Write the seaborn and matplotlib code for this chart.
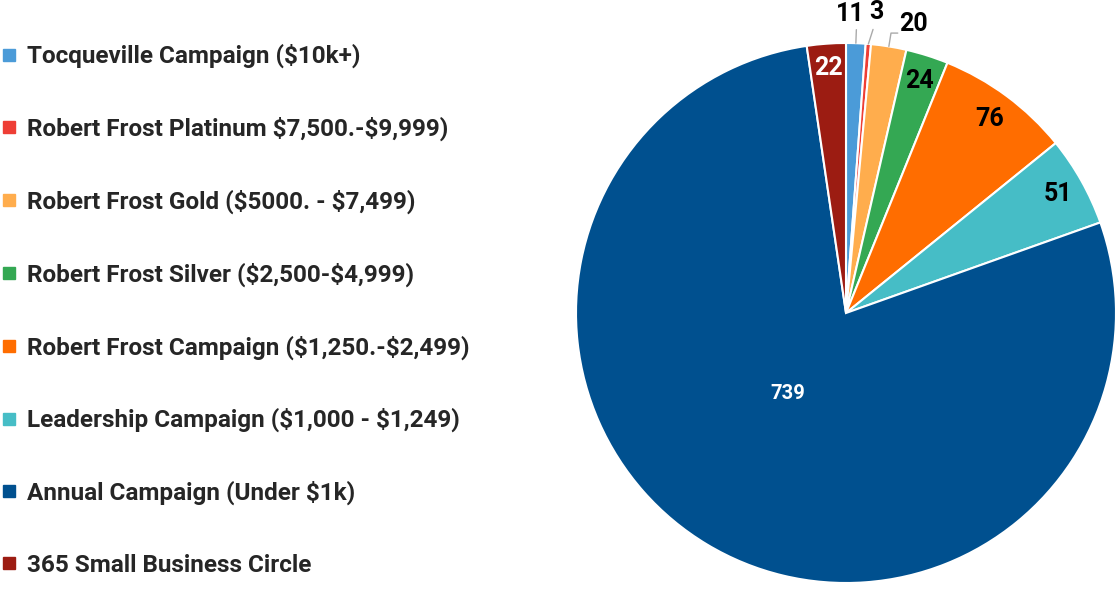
import numpy as np
import matplotlib
matplotlib.use("Agg")
import matplotlib.pyplot as plt
import seaborn as sns
from matplotlib.lines import Line2D

sns.set_theme(style="white")
plt.rcParams['font.family'] = ['Roboto', 'DejaVu Sans']
plt.rcParams['text.parse_math'] = False

categories = [
    "Tocqueville Campaign ($10k+)",
    "Robert Frost Platinum $7,500.-$9,999)",
    "Robert Frost Gold ($5000. - $7,499)",
    "Robert Frost Silver ($2,500-$4,999)",
    "Robert Frost Campaign ($1,250.-$2,499)",
    "Leadership Campaign ($1,000 - $1,249)",
    "Annual Campaign (Under $1k)",
    "365 Small Business Circle",
]
values = [11, 3, 20, 24, 76, 51, 739, 22]
colors = ["#4B9BD8", "#EE3E35", "#FFAD4D", "#34A853", "#FF6D00",
          "#46BDC6", "#00508F", "#9C1C12"]
label_colors = ["black", "black", "black", "black", "black", "black",
                "white", "white"]

W, H = 1120, 589
fig = plt.figure(figsize=(W / 100, H / 100), dpi=100)

cx, cy, R = 846, 313, 270
pad = 40
ax = fig.add_axes([(cx - R - pad) / W, (H - cy - R - pad) / H,
                   2 * (R + pad) / W, 2 * (R + pad) / H])
lim = (R + pad) / R

wedges, _ = ax.pie(values, colors=colors, startangle=90, counterclock=False,
                   radius=1.0,
                   wedgeprops=dict(edgecolor="white", linewidth=1.5))
ax.set_xlim(-lim, lim)
ax.set_ylim(-lim, lim)
ax.set_aspect("equal")
ax.axis("off")

total = sum(values)
cum = np.cumsum([0] + values)
# inside label radii (fraction of radius); None -> outside label
inside_r = [None, None, None, 0.9, 0.895, 0.9, 0.37, 0.91]
inside_da = [0, 0, 0, 0, 0, 0, 5, 0]
outside_offsets = {0: (-1.3, 1.107), 1: (1.1, 1.12), 2: (3.9, 1.10)}
for i, v in enumerate(values):
    mid = (cum[i] + cum[i + 1]) / 2 / total * 2 * np.pi
    dx, dy = np.sin(mid), np.cos(mid)
    if inside_r[i] is not None:
        r = inside_r[i]
        a = mid + np.deg2rad(inside_da[i])
        fs = 14.5 if i == 6 else 18
        ax.text(r * np.sin(a), r * np.cos(a), str(v), ha="center", va="center",
                color=label_colors[i], fontsize=fs, fontweight="bold")
    else:
        dang, rr = outside_offsets[i]
        ang = mid + np.deg2rad(dang)
        tx, ty = rr * np.sin(ang), rr * np.cos(ang)
        ex, ey = dx, dy
        ax.text(tx, ty, str(v), ha="center", va="center", color="black",
                fontsize=18, fontweight="bold")
        lx, ly = 1.05 * np.sin(mid), 1.05 * np.cos(mid)
        if i == 2:
            ax.plot([ex, lx, lx + 0.025], [ey, ly, ly], color="#AAAAAA", lw=1)
        elif i == 1:
            ax.plot([ex, 1.055 * np.sin(mid + 0.012)], [ey, 1.055 * np.cos(mid + 0.012)],
                    color="#AAAAAA", lw=1)
        else:
            ax.plot([ex, lx], [ey, ly], color="#AAAAAA", lw=1)

handles = [Line2D([0], [0], marker="s", linestyle="none", markersize=9,
                  markerfacecolor=c, markeredgecolor=c) for c in colors]
fig.legend(handles, categories, loc="upper left",
           bbox_to_anchor=(2 / W, 1 - 44 / H), frameon=False,
           prop=dict(family=["Roboto", "DejaVu Sans"], weight="bold", size=17.5),
           labelspacing=1.99, handlelength=0.6, handletextpad=0.42,
           borderpad=0, borderaxespad=0)

fig.savefig("out.png", dpi=100, facecolor="white")
